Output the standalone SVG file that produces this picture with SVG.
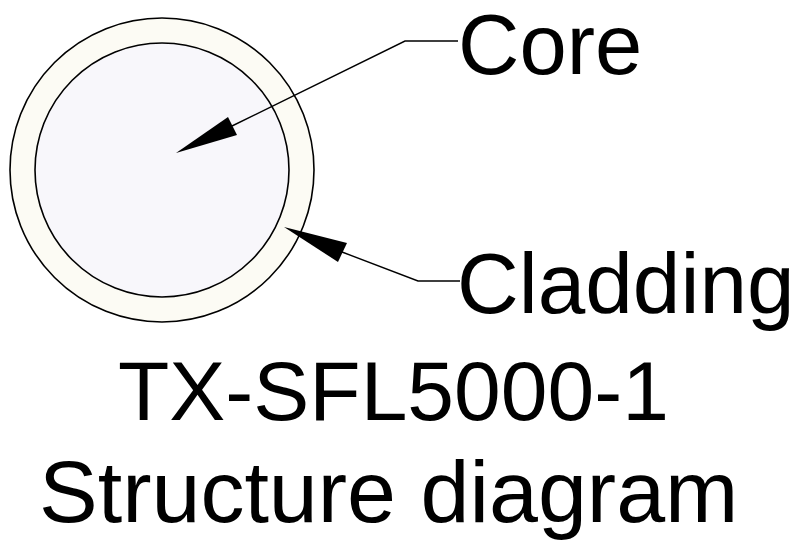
<svg xmlns="http://www.w3.org/2000/svg" width="801" height="540" viewBox="0 0 801 540">
<style>
.lbl{font-family:"Liberation Sans",Arial,sans-serif;fill:#000}
.ring{stroke:#000;stroke-width:1.6}
.lead{fill:none;stroke:#000;stroke-width:1.4}
.head{fill:#000;stroke:none}
</style>
<rect width="801" height="540" fill="#fff"/>
<g id="cladding">
<circle class="ring" cx="162" cy="170" r="152" fill="#fcfbf4"/>
</g>
<g id="core">
<circle class="ring" cx="162" cy="170" r="127" fill="#f8f7fb"/>
</g>
<g id="connectors">
<polyline class="lead" points="232,126 405,41 458,41"/>
<polygon class="head" points="176,153 228,117 237,135"/>
<polyline class="lead" points="342,252 418,281 460,281"/>
<polygon class="head" points="284,227 347,243 338,262"/>
</g>
<g id="labels">
<text class="lbl" x="458" y="74" font-size="85">Core</text>
<text class="lbl" x="457" y="313" font-size="85.5">Cladding</text>
<text class="lbl" x="118" y="420" font-size="84">TX-SFL5000-1</text>
<text class="lbl" x="39" y="522" font-size="88">Structure diagram</text>
</g>
</svg>
